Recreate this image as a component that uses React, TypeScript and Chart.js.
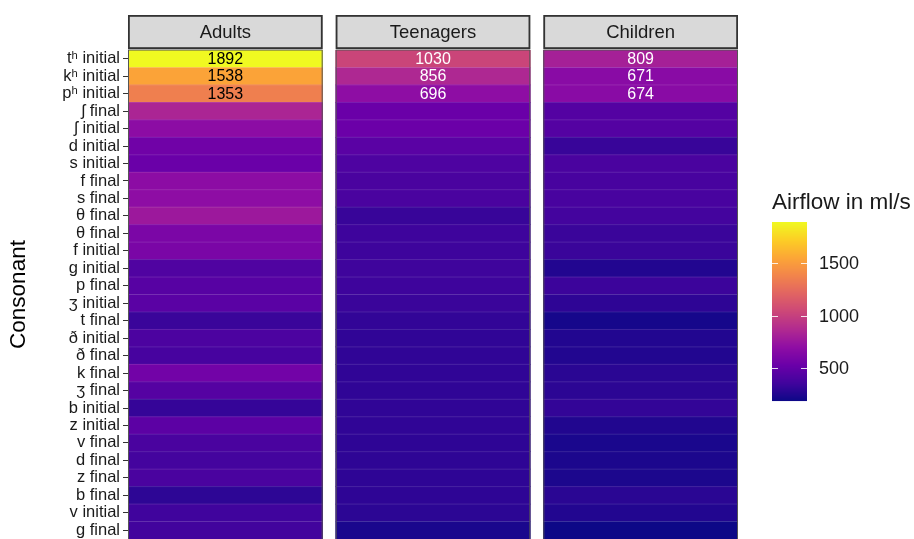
import { useEffect, useRef } from "react";
import { Chart, registerables } from "chart.js";

Chart.register(...registerables);

const consonants = [
  "tʰ initial", "kʰ initial", "pʰ initial", "ʃ final", "ʃ initial", "d initial", "s initial",
  "f final", "s final", "θ final", "θ final", "f initial", "g initial", "p final", "ʒ initial",
  "t final", "ð initial", "ð final", "k final", "ʒ final", "b initial", "z initial", "v final",
  "d final", "z final", "b final", "v initial", "g final",
];
const groups = ["Adults", "Teenagers", "Children"];
const adults = [1892, 1538, 1353, 840, 686, 557, 530, 686, 695, 765, 608, 605, 422, 451, 463, 337, 405, 385, 567, 443, 320, 472, 397, 372, 397, 294, 356, 363];
const teenagers = [1030, 856, 696, 530, 536, 463, 415, 397, 397, 330, 350, 350, 353, 350, 337, 310, 303, 303, 303, 303, 305, 303, 298, 298, 298, 298, 291, 232];
const children = [809, 671, 674, 438, 438, 330, 397, 390, 390, 372, 337, 337, 258, 343, 298, 218, 258, 258, 284, 291, 313, 254, 232, 239, 239, 284, 258, 190];
const legendTicks = [500, 1000, 1500];
const colorMin = 189;
const colorMax = 1892;
const labelledRows = 3;
const legendTitle = "Airflow in ml/s";
const yTitle = "Consonant";

const series = [adults, teenagers, children];

const plasmaStops = [
  "#0d0887", "#41049d", "#6a00a8", "#8f0da4", "#b12a90", "#cc4778",
  "#e16462", "#f2844b", "#fca636", "#fcce25", "#f0f921",
];
const hexToRgb = (h: string) => [1, 3, 5].map((i) => parseInt(h.slice(i, i + 2), 16));
const plasmaRgb = plasmaStops.map(hexToRgb);
function plasma(v: number): string {
  let t = (v - colorMin) / (colorMax - colorMin);
  t = Math.max(0, Math.min(1, t));
  const p = t * (plasmaRgb.length - 1);
  const i = Math.min(plasmaRgb.length - 2, Math.floor(p));
  const f = p - i;
  const a = plasmaRgb[i], b = plasmaRgb[i + 1];
  const c = a.map((x, k) => Math.round(x + (b[k] - x) * f));
  return `rgb(${c[0]},${c[1]},${c[2]})`;
}

const FONT = "'Liberation Sans', Arial, Helvetica, sans-serif";
const GAP = 0.0667;

const decorPlugin = {
  id: "decor",
  afterDatasetsDraw(chart: any) {
    const { ctx, chartArea, scales } = chart;
    const xs = scales.x;
    ctx.save();
    const n = consonants.length;
    const rowH = (chartArea.bottom - chartArea.top) / n;
    groups.forEach((_, k) => {
      const l = xs.getPixelForValue(k * (1 + GAP));
      const r = xs.getPixelForValue(k * (1 + GAP) + 1);
      ctx.strokeStyle = "rgba(255,255,255,0.16)";
      ctx.lineWidth = 0.8;
      for (let i = 1; i < n; i++) {
        const y = chartArea.top + i * rowH;
        ctx.beginPath();
        ctx.moveTo(l, y);
        ctx.lineTo(r, y);
        ctx.stroke();
      }
      ctx.strokeStyle = "#555";
      ctx.lineWidth = 1;
      ctx.strokeRect(l + 0.5, chartArea.top, r - l - 1, chartArea.bottom - chartArea.top + 4);
    });
    ctx.font = `16px ${FONT}`;
    ctx.textAlign = "center";
    ctx.textBaseline = "middle";
    chart.data.datasets.forEach((ds: any, k: number) => {
      const meta = chart.getDatasetMeta(k);
      meta.data.forEach((el: any, i: number) => {
        if (i >= labelledRows) return;
        const v = series[k][i];
        const c = el.getCenterPoint();
        ctx.fillStyle = v > 1200 ? "#000000" : "#ffffff";
        ctx.fillText(String(v), c.x, c.y + 0.5);
      });
    });
    ctx.restore();
  },
  afterDraw(chart: any) {
    const { ctx, scales } = chart;
    const xs = scales.x;
    ctx.save();
    groups.forEach((g, k) => {
      const l = xs.getPixelForValue(k * (1 + GAP));
      const r = xs.getPixelForValue(k * (1 + GAP) + 1);
      ctx.fillStyle = "#d9d9d9";
      ctx.fillRect(l, 15, r - l, 34);
      ctx.strokeStyle = "#333333";
      ctx.lineWidth = 1.8;
      ctx.strokeRect(l + 0.9, 15.9, r - l - 1.8, 32.2);
      ctx.fillStyle = "#1a1a1a";
      ctx.font = `18.5px ${FONT}`;
      ctx.textAlign = "center";
      ctx.textBaseline = "middle";
      ctx.fillText(g, (l + r) / 2, 33);
    });
    const bx = 772, bw = 35, top = 222, bottom = 401;
    const yOf = (v: number) => bottom - ((v - colorMin) / (colorMax - colorMin)) * (bottom - top);
    for (let y = top; y < bottom; y += 1) {
      const v = colorMin + ((bottom - y - 0.5) / (bottom - top)) * (colorMax - colorMin);
      ctx.fillStyle = plasma(v);
      ctx.fillRect(bx, y, bw, 1.05);
    }
    ctx.strokeStyle = "rgba(255,255,255,0.85)";
    ctx.lineWidth = 1;
    ctx.fillStyle = "#1a1a1a";
    ctx.font = `18px ${FONT}`;
    ctx.textAlign = "left";
    ctx.textBaseline = "middle";
    legendTicks.forEach((t) => {
      const y = Math.round(yOf(t)) + 0.5;
      ctx.beginPath();
      ctx.moveTo(bx, y);
      ctx.lineTo(bx + 6, y);
      ctx.moveTo(bx + bw - 6, y);
      ctx.lineTo(bx + bw, y);
      ctx.stroke();
      ctx.fillText(String(t), 819, yOf(t) + 1);
    });
    ctx.font = `22.5px ${FONT}`;
    ctx.textBaseline = "alphabetic";
    ctx.fillText(legendTitle, 772, 209);
    ctx.restore();
  },
};

export default function App() {
  const ref = useRef<HTMLCanvasElement | null>(null);
  useEffect(() => {
    if (!ref.current) return;
    const chart = new Chart(ref.current, {
      type: "bar",
      data: {
        labels: consonants,
        datasets: groups.map((g, k) => ({
          label: g,
          data: consonants.map(() => [k * (1 + GAP), k * (1 + GAP) + 1]),
          backgroundColor: series[k].map(plasma),
          borderWidth: 0,
          grouped: false,
          barPercentage: 1,
          categoryPercentage: 1,
        })) as any,
      },
      options: {
        indexAxis: "y",
        animation: false,
        responsive: false,
        maintainAspectRatio: false,
        layout: { padding: { left: 0, right: 176, top: 50, bottom: 0 } },
        plugins: { legend: { display: false }, tooltip: { enabled: false } },
        scales: {
          x: { type: "linear", min: 0, max: 3 + 2 * GAP, display: false },
          y: {
            type: "category",
            offset: true,
            grid: {
              display: true,
              drawOnChartArea: false,
              drawTicks: true,
              tickLength: 5,
              tickColor: "#333333",
              tickWidth: 1,
              offset: false,
            },
            border: { display: false },
            ticks: {
              color: "#1a1a1a",
              font: { family: FONT, size: 16.5 },
              padding: 3,
              autoSkip: false,
            },
            title: {
              display: true,
              text: yTitle,
              color: "#000000",
              font: { family: FONT, size: 22.5, lineHeight: 1 },
              padding: { top: 8, bottom: 0 },
            },
            afterFit: (s: any) => {
              s.width = 128;
              s.paddingTop = 0;
              s.paddingBottom = 0;
            },
          },
        },
      },
      plugins: [decorPlugin],
    });
    return () => chart.destroy();
  }, []);
  return (
    <div style={{ position: "absolute", left: 0, top: 0, width: 914, height: 539, overflow: "hidden", background: "#fff" }}>
      <canvas ref={ref} width={914} height={539} style={{ display: "block", width: 914, height: 539 }} />
    </div>
  );
}
